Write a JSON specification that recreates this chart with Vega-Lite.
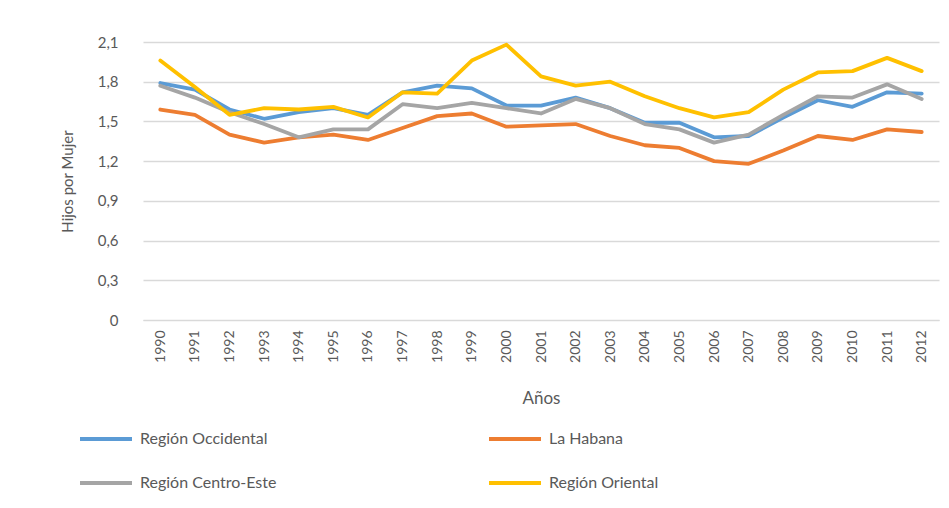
{
  "$schema": "https://vega.github.io/schema/vega-lite/v6.json",
  "width": 796,
  "height": 278,
  "autosize": {"type": "none"},
  "padding": {"left": 143, "top": 42, "right": 10, "bottom": 188},
  "background": "white",
  "config": {
    "font": "Lato",
    "view": {"stroke": null}
  },
  "datasets": {
    "tfr": [
      {"year": "1990", "region": "Región Occidental", "value": 1.79},
      {"year": "1991", "region": "Región Occidental", "value": 1.74},
      {"year": "1992", "region": "Región Occidental", "value": 1.59},
      {"year": "1993", "region": "Región Occidental", "value": 1.52},
      {"year": "1994", "region": "Región Occidental", "value": 1.57},
      {"year": "1995", "region": "Región Occidental", "value": 1.6},
      {"year": "1996", "region": "Región Occidental", "value": 1.55},
      {"year": "1997", "region": "Región Occidental", "value": 1.72},
      {"year": "1998", "region": "Región Occidental", "value": 1.77},
      {"year": "1999", "region": "Región Occidental", "value": 1.75},
      {"year": "2000", "region": "Región Occidental", "value": 1.62},
      {"year": "2001", "region": "Región Occidental", "value": 1.62},
      {"year": "2002", "region": "Región Occidental", "value": 1.68},
      {"year": "2003", "region": "Región Occidental", "value": 1.6},
      {"year": "2004", "region": "Región Occidental", "value": 1.49},
      {"year": "2005", "region": "Región Occidental", "value": 1.49},
      {"year": "2006", "region": "Región Occidental", "value": 1.38},
      {"year": "2007", "region": "Región Occidental", "value": 1.39},
      {"year": "2008", "region": "Región Occidental", "value": 1.53},
      {"year": "2009", "region": "Región Occidental", "value": 1.66},
      {"year": "2010", "region": "Región Occidental", "value": 1.61},
      {"year": "2011", "region": "Región Occidental", "value": 1.72},
      {"year": "2012", "region": "Región Occidental", "value": 1.71},
      {"year": "1990", "region": "La Habana", "value": 1.59},
      {"year": "1991", "region": "La Habana", "value": 1.55},
      {"year": "1992", "region": "La Habana", "value": 1.4},
      {"year": "1993", "region": "La Habana", "value": 1.34},
      {"year": "1994", "region": "La Habana", "value": 1.38},
      {"year": "1995", "region": "La Habana", "value": 1.4},
      {"year": "1996", "region": "La Habana", "value": 1.36},
      {"year": "1997", "region": "La Habana", "value": 1.45},
      {"year": "1998", "region": "La Habana", "value": 1.54},
      {"year": "1999", "region": "La Habana", "value": 1.56},
      {"year": "2000", "region": "La Habana", "value": 1.46},
      {"year": "2001", "region": "La Habana", "value": 1.47},
      {"year": "2002", "region": "La Habana", "value": 1.48},
      {"year": "2003", "region": "La Habana", "value": 1.39},
      {"year": "2004", "region": "La Habana", "value": 1.32},
      {"year": "2005", "region": "La Habana", "value": 1.3},
      {"year": "2006", "region": "La Habana", "value": 1.2},
      {"year": "2007", "region": "La Habana", "value": 1.18},
      {"year": "2008", "region": "La Habana", "value": 1.28},
      {"year": "2009", "region": "La Habana", "value": 1.39},
      {"year": "2010", "region": "La Habana", "value": 1.36},
      {"year": "2011", "region": "La Habana", "value": 1.44},
      {"year": "2012", "region": "La Habana", "value": 1.42},
      {"year": "1990", "region": "Región Centro-Este", "value": 1.77},
      {"year": "1991", "region": "Región Centro-Este", "value": 1.68},
      {"year": "1992", "region": "Región Centro-Este", "value": 1.57},
      {"year": "1993", "region": "Región Centro-Este", "value": 1.48},
      {"year": "1994", "region": "Región Centro-Este", "value": 1.38},
      {"year": "1995", "region": "Región Centro-Este", "value": 1.44},
      {"year": "1996", "region": "Región Centro-Este", "value": 1.44},
      {"year": "1997", "region": "Región Centro-Este", "value": 1.63},
      {"year": "1998", "region": "Región Centro-Este", "value": 1.6},
      {"year": "1999", "region": "Región Centro-Este", "value": 1.64},
      {"year": "2000", "region": "Región Centro-Este", "value": 1.6},
      {"year": "2001", "region": "Región Centro-Este", "value": 1.56},
      {"year": "2002", "region": "Región Centro-Este", "value": 1.67},
      {"year": "2003", "region": "Región Centro-Este", "value": 1.6},
      {"year": "2004", "region": "Región Centro-Este", "value": 1.48},
      {"year": "2005", "region": "Región Centro-Este", "value": 1.44},
      {"year": "2006", "region": "Región Centro-Este", "value": 1.34},
      {"year": "2007", "region": "Región Centro-Este", "value": 1.4},
      {"year": "2008", "region": "Región Centro-Este", "value": 1.55},
      {"year": "2009", "region": "Región Centro-Este", "value": 1.69},
      {"year": "2010", "region": "Región Centro-Este", "value": 1.68},
      {"year": "2011", "region": "Región Centro-Este", "value": 1.78},
      {"year": "2012", "region": "Región Centro-Este", "value": 1.67},
      {"year": "1990", "region": "Región Oriental", "value": 1.96},
      {"year": "1991", "region": "Región Oriental", "value": 1.76},
      {"year": "1992", "region": "Región Oriental", "value": 1.55},
      {"year": "1993", "region": "Región Oriental", "value": 1.6},
      {"year": "1994", "region": "Región Oriental", "value": 1.59},
      {"year": "1995", "region": "Región Oriental", "value": 1.61},
      {"year": "1996", "region": "Región Oriental", "value": 1.53},
      {"year": "1997", "region": "Región Oriental", "value": 1.72},
      {"year": "1998", "region": "Región Oriental", "value": 1.71},
      {"year": "1999", "region": "Región Oriental", "value": 1.96},
      {"year": "2000", "region": "Región Oriental", "value": 2.08},
      {"year": "2001", "region": "Región Oriental", "value": 1.84},
      {"year": "2002", "region": "Región Oriental", "value": 1.77},
      {"year": "2003", "region": "Región Oriental", "value": 1.8},
      {"year": "2004", "region": "Región Oriental", "value": 1.69},
      {"year": "2005", "region": "Región Oriental", "value": 1.6},
      {"year": "2006", "region": "Región Oriental", "value": 1.53},
      {"year": "2007", "region": "Región Oriental", "value": 1.57},
      {"year": "2008", "region": "Región Oriental", "value": 1.74},
      {"year": "2009", "region": "Región Oriental", "value": 1.87},
      {"year": "2010", "region": "Región Oriental", "value": 1.88},
      {"year": "2011", "region": "Región Oriental", "value": 1.98},
      {"year": "2012", "region": "Región Oriental", "value": 1.88}
    ]
  },
  "data": {"name": "tfr"},
  "mark": {"type": "line", "strokeWidth": 3.8, "strokeJoin": "round", "strokeCap": "round"},
  "encoding": {
    "x": {
      "field": "year",
      "type": "ordinal",
      "scale": {"type": "point", "padding": 0.5},
      "axis": {
        "title": "Años",
        "titleFont": "Lato",
        "titleFontSize": 17,
        "titleFontWeight": "normal",
        "titleColor": "#595959",
        "titlePadding": 28,
        "labelAngle": -90,
        "labelFontSize": 14,
        "labelColor": "#595959",
        "labelPadding": 10,
        "ticks": false,
        "domain": true,
        "domainColor": "#d9d9d9",
        "grid": false
      }
    },
    "y": {
      "field": "value",
      "type": "quantitative",
      "scale": {"domain": [0, 2.1], "nice": false, "zero": true},
      "axis": {
        "title": "Hijos por Mujer",
        "titleFont": "Lato",
        "titleFontSize": 15,
        "titleFontWeight": "normal",
        "titleColor": "#595959",
        "titlePadding": 22,
        "values": [0, 0.3, 0.6, 0.9, 1.2, 1.5, 1.8, 2.1],
        "labelExpr": "datum.value == 0 ? '0' : replace(format(datum.value, '.1f'), '.', ',')",
        "labelFontSize": 15,
        "labelColor": "#595959",
        "labelPadding": 25,
        "ticks": false,
        "domain": false,
        "grid": true,
        "gridColor": "#d9d9d9",
        "gridWidth": 1.5
      }
    },
    "color": {
      "field": "region",
      "type": "nominal",
      "scale": {
        "domain": ["Región Occidental", "La Habana", "Región Centro-Este", "Región Oriental"],
        "range": ["#5b9bd5", "#ed7d31", "#a5a5a5", "#ffc000"]
      },
      "legend": {
        "title": null,
        "orient": "none",
        "legendX": -65,
        "legendY": 369,
        "direction": "horizontal",
        "columns": 2,
        "symbolType": "stroke",
        "symbolSize": 2704,
        "symbolStrokeWidth": 4,
        "labelFontSize": 16,
        "labelColor": "#595959",
        "labelOffset": 6,
        "labelLimit": 300,
        "columnPadding": 204,
        "rowPadding": 8
      }
    }
  }
}
